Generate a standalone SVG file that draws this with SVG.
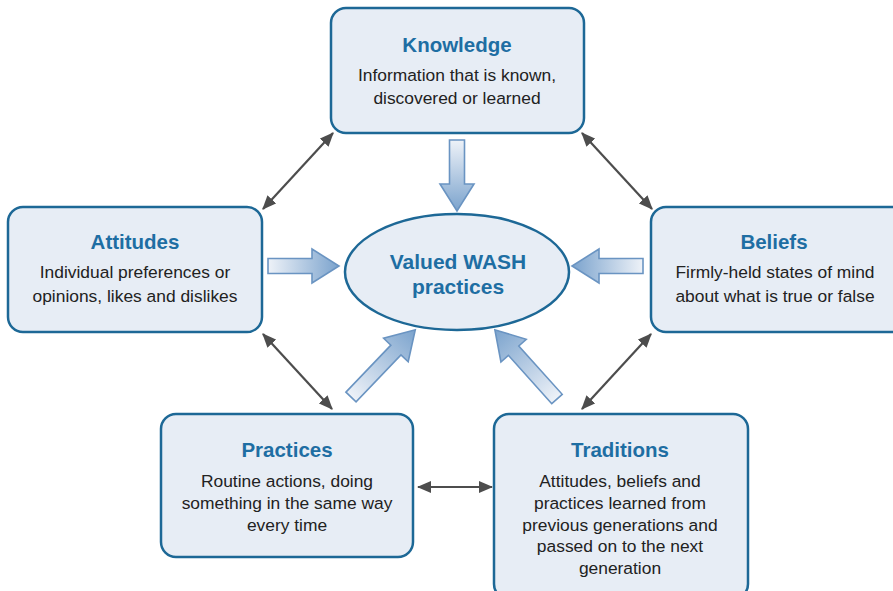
<svg xmlns="http://www.w3.org/2000/svg" width="893" height="591" viewBox="0 0 893 591">
<style>
.box{fill:#e7edf5;stroke:#1d6896;stroke-width:2.5}
.title{font-family:"Liberation Sans",Arial,sans-serif;font-weight:bold;font-size:20.5px;fill:#1e6ea3;text-anchor:middle}
.body{font-family:"Liberation Sans",Arial,sans-serif;font-size:17.4px;fill:#222;text-anchor:middle}
.con{stroke:#4d4d4d;stroke-width:2.2;fill:none;marker-start:url(#ah);marker-end:url(#ah)}
.blk{fill:url(#g);stroke:#6a94c2;stroke-width:1.6;stroke-linejoin:miter}
</style>
<defs>
<marker id="ah" viewBox="0 0 12 10" refX="11" refY="5" markerWidth="6.6" markerHeight="5.4" orient="auto-start-reverse" markerUnits="strokeWidth">
<path d="M0,0 L12,5 L0,10 Z" fill="#4d4d4d"/>
</marker>
<linearGradient id="g" x1="0" y1="0" x2="1" y2="0">
<stop offset="0" stop-color="#eef2f8"/>
<stop offset="1" stop-color="#7ba3cd"/>
</linearGradient>
<path id="ba" d="M0,-7.5 L44,-7.5 L44,-17 L71,0 L44,17 L44,7.5 L0,7.5 Z"/>
<path id="bd" d="M0,-7 L65,-7 L65,-17 L93,0 L65,17 L65,7 L0,7 Z"/>
</defs>
<g id="connectors">
<line class="con" x1="333" y1="133" x2="263" y2="209"/>
<line class="con" x1="582" y1="133" x2="652" y2="209"/>
<line class="con" x1="263" y1="334" x2="332" y2="409"/>
<line class="con" x1="651" y1="334" x2="582" y2="409"/>
<line class="con" x1="418" y1="487" x2="492" y2="487"/>
<use class="blk" href="#ba" transform="translate(457,140) rotate(90)"/>
<use class="blk" href="#ba" transform="translate(268,266)"/>
<use class="blk" href="#ba" transform="translate(643,266) rotate(180)"/>
<use class="blk" href="#bd" transform="translate(351,397) rotate(-46.3)"/>
<use class="blk" href="#bd" transform="translate(557,399) rotate(-131.9)"/>
</g>
<g id="knowledge">
<rect class="box" x="331" y="8" width="253" height="125" rx="15"/>
<text class="title" x="457" y="52">Knowledge</text>
<text class="body" x="457" y="81">Information that is known,</text>
<text class="body" x="457" y="104">discovered or learned</text>
</g>
<g id="attitudes">
<rect class="box" x="8" y="207" width="254" height="125" rx="15"/>
<text class="title" x="135" y="249">Attitudes</text>
<text class="body" x="135" y="278">Individual preferences or</text>
<text class="body" x="135" y="302">opinions, likes and dislikes</text>
</g>
<g id="beliefs">
<rect class="box" x="651" y="207" width="256" height="125" rx="15"/>
<text class="title" x="774" y="249">Beliefs</text>
<text class="body" x="775" y="278">Firmly-held states of mind</text>
<text class="body" x="775" y="302">about what is true or false</text>
</g>
<g id="valued">
<ellipse class="box" cx="457" cy="272" rx="112" ry="58"/>
<text class="title" x="458" y="269" style="font-size:21px">Valued WASH</text>
<text class="title" x="458" y="294" style="font-size:21px">practices</text>
</g>
<g id="practices">
<rect class="box" x="161" y="414" width="252" height="143" rx="15"/>
<text class="title" x="287" y="457">Practices</text>
<text class="body" x="287" y="487">Routine actions, doing</text>
<text class="body" x="287" y="509">something in the same way</text>
<text class="body" x="287" y="531">every time</text>
</g>
<g id="traditions">
<rect class="box" x="494" y="414" width="254" height="185" rx="15"/>
<text class="title" x="620" y="457">Traditions</text>
<text class="body" x="620" y="487">Attitudes, beliefs and</text>
<text class="body" x="620" y="509">practices learned from</text>
<text class="body" x="620" y="531">previous generations and</text>
<text class="body" x="620" y="552">passed on to the next</text>
<text class="body" x="620" y="574">generation</text>
</g>
</svg>
